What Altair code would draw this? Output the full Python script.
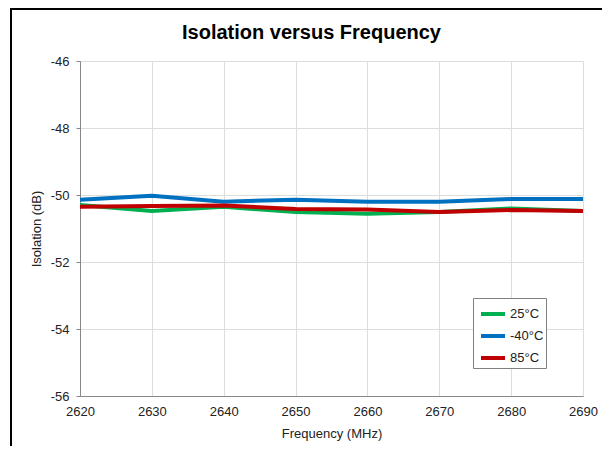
import altair as alt
import pandas as pd

freqs = [2620, 2630, 2640, 2650, 2660, 2670, 2680, 2690]
iso_25 = [-50.30, -50.48, -50.35, -50.51, -50.56, -50.51, -50.40, -50.48]
iso_m40 = [-50.14, -50.02, -50.20, -50.14, -50.20, -50.20, -50.12, -50.12]
iso_85 = [-50.35, -50.33, -50.31, -50.42, -50.43, -50.51, -50.45, -50.48]
series = ["25°C", "-40°C", "85°C"]
colors = ["#00B050", "#0070C0", "#C00000"]
y_ticks = [-56, -54, -52, -50, -48, -46]
x_ticks = freqs

rows = []
for name, vals in zip(series, [iso_25, iso_m40, iso_85]):
    for f, v in zip(freqs, vals):
        rows.append({"freq": f, "iso": v, "series": name})
df = pd.DataFrame(rows)

FONT = "Liberation Sans"
TXT = "#222222"

lines = alt.Chart(df).mark_line(strokeWidth=4, strokeJoin="round").encode(
    x=alt.X("freq:Q",
            scale=alt.Scale(domain=[2620, 2690], nice=False, zero=False),
            axis=alt.Axis(values=x_ticks, title="Frequency (MHz)",
                          labelExpr="datum.value + ''", labelFlush=False,
                          labelPadding=9, titlePadding=9, ticks=False,
                          labelFontSize=13, titleFontSize=13,
                          titleFontWeight="normal", labelFont=FONT, titleFont=FONT,
                          labelColor=TXT, titleColor=TXT)),
    y=alt.Y("iso:Q",
            scale=alt.Scale(domain=[-56, -46], nice=False, zero=False),
            axis=alt.Axis(values=y_ticks, title="Isolation (dB)",
                          labelExpr="datum.value + ''", labelFlush=False,
                          tickSize=4, labelPadding=7, titlePadding=7,
                          labelFontSize=13, titleFontSize=13,
                          titleFontWeight="normal", labelFont=FONT, titleFont=FONT,
                          labelColor=TXT, titleColor=TXT)),
    color=alt.Color("series:N",
                    scale=alt.Scale(domain=series, range=colors),
                    sort=series,
                    legend=alt.Legend(title=None, orient="none",
                                      legendX=393, legendY=237,
                                      symbolType="stroke", symbolStrokeWidth=4,
                                      symbolSize=576, symbolOffset=4,
                                      labelFontSize=13,
                                      labelFont=FONT, labelColor=TXT,
                                      rowPadding=0, padding=2,
                                      strokeColor="#808080",
                                      fillColor="#FFFFFF", labelOffset=3)),
    order=alt.Order("freq:Q"),
)

border_data = alt.Data(values=[{"k": 0}])
left_border = alt.Chart(border_data).mark_rule(color="#000000", strokeWidth=2).encode(
    x=alt.value(-69), y=alt.value(-52), y2=alt.value(400)
)
top_border = alt.Chart(border_data).mark_rule(color="#000000", strokeWidth=2).encode(
    x=alt.value(-70), x2=alt.value(530), y=alt.value(-52)
)

chart = alt.layer(lines, left_border, top_border).properties(
    width=503, height=335,
    autosize=alt.AutoSizeParams(type="none"),
    padding={"left": 72, "top": 53, "right": 19, "bottom": 50},
    title=alt.TitleParams("Isolation versus Frequency", fontSize=20,
                          font=FONT, fontWeight="bold", color="#000000",
                          anchor="middle", dx=-20, offset=16, dy=51),
).configure_view(stroke=None).configure_axis(
    gridColor="#D9D9D9", domainColor="#BFBFBF", tickColor="#BFBFBF",
    domainWidth=1, gridWidth=1,
).configure(background="#FFFFFF")

chart.save("out.html", embed_options={"renderer": "svg", "actions": False})
